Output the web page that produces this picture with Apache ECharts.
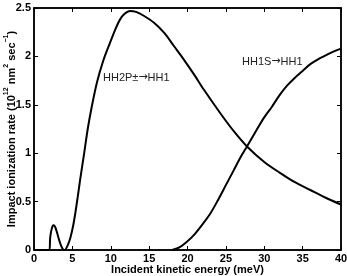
<!DOCTYPE html>
<html>
<head>
<meta charset="utf-8">
<script src="https://cdn.jsdelivr.net/npm/echarts@6/dist/echarts.min.js"></script>
<style>
  html, body { margin: 0; padding: 0; background: #fff; }
  #chart { width: 347px; height: 276px; }
</style>
</head>
<body>
<div id="chart"></div>
<script>
// HH2P± -> HH1 curve (energy in meV, rate in 10^12 nm^2 sec^-1)
const energyP = [0, 2.0, 2.1, 2.25, 2.45, 2.6, 2.8, 3.0, 3.25, 3.5, 3.75, 4.0, 4.4, 4.75, 5.1, 5.4, 5.7, 6.0, 6.5, 7.0, 7.5, 8.2, 9.0, 9.9, 10.6, 11.2, 11.8, 12.5, 13.3, 14.3, 15.6, 17.0, 18.2, 19.5, 20.8, 22.1, 24.3, 26, 27.75, 30, 32, 34, 36, 38, 40];
const rateP = [0, 0, 0.12, 0.2, 0.25, 0.255, 0.23, 0.18, 0.11, 0.05, 0.01, 0, 0.05, 0.13, 0.25, 0.39, 0.55, 0.72, 0.98, 1.25, 1.47, 1.73, 1.95, 2.14, 2.28, 2.38, 2.44, 2.47, 2.46, 2.42, 2.35, 2.24, 2.11, 1.97, 1.82, 1.66, 1.41, 1.23, 1.07, 0.91, 0.80, 0.70, 0.62, 0.54, 0.47];

// HH1S -> HH1 curve
const energyS = [18.0, 19, 20, 21, 22, 23, 24, 25, 26, 27, 27.75, 29, 30, 31, 32, 33, 34, 35, 36, 37, 38, 39, 40];
const rateS = [0, 0.03, 0.09, 0.17, 0.27, 0.38, 0.52, 0.67, 0.82, 0.97, 1.07, 1.24, 1.37, 1.48, 1.60, 1.70, 1.78, 1.85, 1.92, 1.97, 2.01, 2.05, 2.08];

const chart = echarts.init(document.getElementById('chart'));

const font = 'Liberation Sans, Arial, sans-serif';
const axisLine = { show: true, onZero: false, lineStyle: { color: '#000', width: 1.5 } };
const tick = { show: true, inside: true, length: 4, lineStyle: { color: '#000', width: 1 } };

function pairs(xs, ys) {
  return xs.map((x, i) => [x, ys[i]]);
}

const labelRich = {
  t: { fill: '#222', fontSize: 11, fontFamily: font },
  a: { fill: '#222', fontSize: 11, fontFamily: 'DejaVu Sans' }
};

chart.setOption({
  animation: false,
  grid: {
    left: 34, right: 6, top: 8, bottom: 26,
    containLabel: false, outerBoundsMode: 'none',
    show: true, borderColor: '#000', borderWidth: 1.5
  },
  xAxis: [
    {
      type: 'value', min: 0, max: 40, interval: 5,
      axisLine, axisTick: tick, splitLine: { show: false },
      axisLabel: { color: '#000', fontWeight: 'bold', fontSize: 11, fontFamily: font, margin: 3 },
      name: 'Incident kinetic energy (meV)', nameLocation: 'middle', nameGap: 14, nameMoveOverlap: false,
      nameTextStyle: { color: '#000', fontWeight: 'bold', fontSize: 11, fontFamily: font }
    },
    {
      show: true, type: 'value', min: 0, max: 40, interval: 5, position: 'top',
      axisLine, axisTick: tick, axisLabel: { show: false }, splitLine: { show: false }
    }
  ],
  yAxis: [
    {
      type: 'value', min: 0, max: 2.5, interval: 0.5,
      axisLine, axisTick: tick, splitLine: { show: false },
      axisLabel: { color: '#000', fontWeight: 'bold', fontSize: 11, fontFamily: font, margin: 3 },
      name: '{n|Impact ionization rate (10}{s|12}{n| nm}{s|2}{n| sec}{s|−1}{n|)}',
      nameLocation: 'middle', nameGap: 17, nameRotate: 90, nameMoveOverlap: false,
      nameTextStyle: {
        rich: {
          n: { color: '#000', fontWeight: 'bold', fontSize: 11, fontFamily: font, lineHeight: 14, verticalAlign: 'bottom' },
          s: { color: '#000', fontWeight: 'bold', fontSize: 7, fontFamily: font, lineHeight: 14, verticalAlign: 'top' }
        }
      }
    },
    {
      show: true, type: 'value', min: 0, max: 2.5, interval: 0.5, position: 'right',
      axisLine, axisTick: tick, axisLabel: { show: false }, splitLine: { show: false }
    }
  ],
  series: [
    {
      type: 'line', data: pairs(energyP, rateP), smooth: 0.3, symbol: 'none',
      lineStyle: { color: '#000', width: 2 }
    },
    {
      type: 'line', data: pairs(energyS, rateS), smooth: 0.3, symbol: 'none',
      lineStyle: { color: '#000', width: 2 }
    }
  ],
  graphic: [
    {
      type: 'text', left: 103, top: 72,
      style: { text: '{t|HH2P±}{a|→}{t|HH1}', rich: labelRich }
    },
    {
      type: 'text', left: 242, top: 56,
      style: { text: '{t|HH1S}{a|→}{t|HH1}', rich: labelRich }
    }
  ]
});
</script>
</body>
</html>
